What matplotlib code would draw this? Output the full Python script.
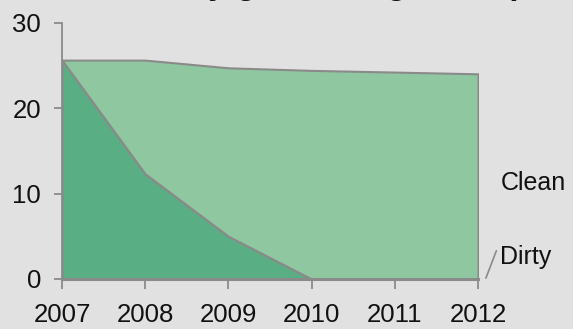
import numpy as np
import matplotlib.pyplot as plt

plt.rcParams['font.family'] = ['Liberation Sans', 'DejaVu Sans']

# capacity by year, split into dirty and clean units
years = [2007, 2008, 2009, 2010, 2011, 2012]
dirty = [25.6, 12.3, 5.0, 0.0, 0.0, 0.0]
clean = [0.0, 13.3, 19.7, 24.4, 24.2, 24.0]
series_names = ['Dirty', 'Clean']
title = 'Electricity generating units (GW)'

bg = '#e1e1e1'
edge = '#8a8a8a'
colors = ['#5aae84', '#8fc8a0']

fig = plt.figure(figsize=(5.73, 3.29), dpi=100, facecolor=bg)
ax = fig.add_axes([62 / 573, 50 / 329, (478 - 62) / 573, (279 - 22.5) / 329])
ax.set_facecolor(bg)

ax.stackplot(years, dirty, clean, colors=colors, edgecolor=edge, linewidth=1.5)

ax.set_xlim(years[0], years[-1])
ax.set_ylim(0, 30)
ax.set_xticks(years)
ax.set_yticks([0, 10, 20, 30])

for side in ['top', 'right']:
    ax.spines[side].set_visible(False)
ax.spines['left'].set_color(edge)
ax.spines['left'].set_linewidth(1.3)
ax.spines['bottom'].set_color(edge)
ax.spines['bottom'].set_linewidth(2.2)
ax.tick_params(axis='x', direction='out', length=7.5, width=1.3, color=edge,
               labelsize=18.5, pad=10, labelcolor='#111111')
ax.tick_params(axis='y', direction='out', length=6, width=1.3, color=edge,
               labelsize=18.5, pad=9, labelcolor='#111111')

# series labels to the right of the last year
ax.text(years[-1] + 0.27, 11.2, series_names[1], fontsize=18,
        va='center', ha='left', color='#111111')
ax.annotate(series_names[0], xy=(years[-1] + 0.095, dirty[-1] + 0.1),
            xytext=(years[-1] + 0.27, 2.6), fontsize=18, va='center',
            ha='left', color='#111111', annotation_clip=False,
            arrowprops=dict(arrowstyle='-', color=edge, lw=1.2,
                            shrinkA=0, shrinkB=0,
                            relpos=(-0.08, 0.75)))

fig.text(67 / 573, 1.0 + 6 / 329, title, fontsize=24, fontweight='bold',
         ha='left', va='baseline', color='#111111')

fig.savefig('out.png', dpi=100, facecolor=bg)
